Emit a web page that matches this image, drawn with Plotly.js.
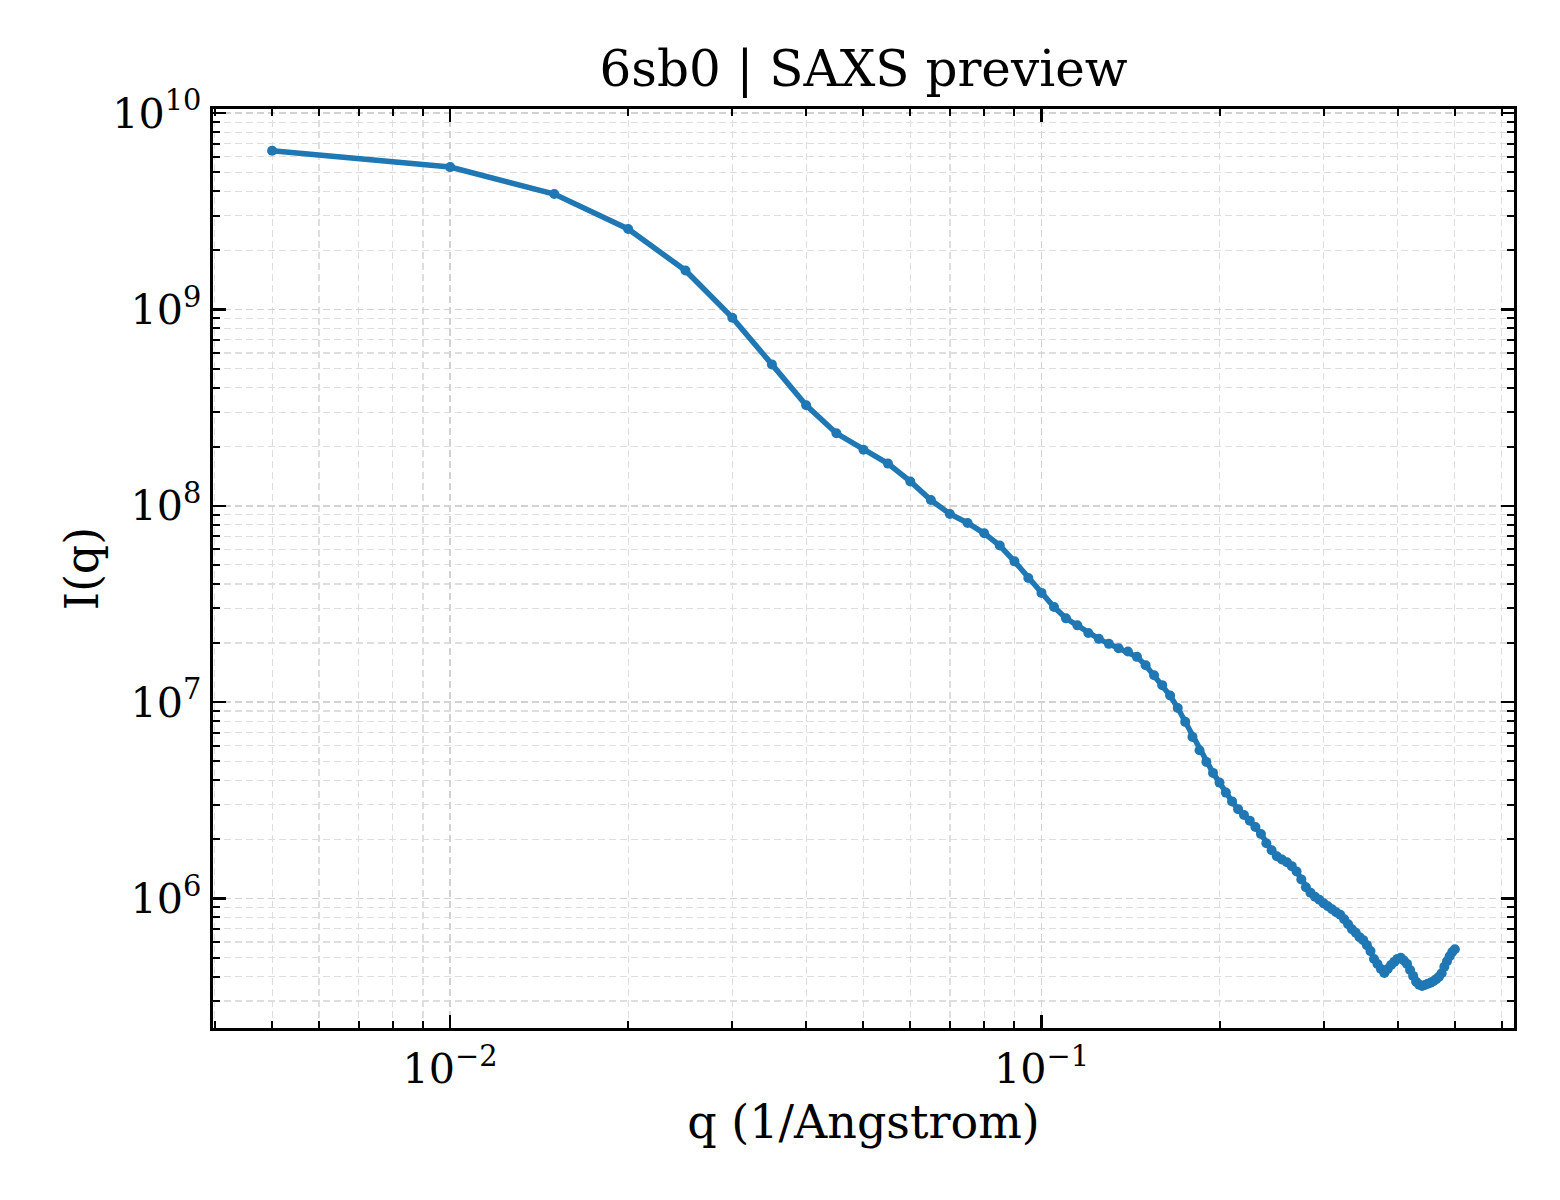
<!DOCTYPE html>
<html>
<head>
<meta charset="utf-8">
<script src="https://cdn.plot.ly/plotly-3.0.1.min.js"></script>
<style>
  html, body { margin: 0; padding: 0; background: #ffffff; }
  #plot { width: 1560px; height: 1200px; }
</style>
</head>
<body>
<div id="plot"></div>
<script>
// q values (1/Angstrom)
const qValues = [
    0.005, 0.010, 0.015, 0.020, 0.025, 0.030, 0.035, 0.040, 0.045, 0.050,
    0.055, 0.060, 0.065, 0.070, 0.075, 0.080, 0.085, 0.090, 0.095, 0.100,
    0.105, 0.110, 0.115, 0.120, 0.125, 0.130, 0.135, 0.140, 0.145, 0.150,
    0.155, 0.160, 0.165, 0.170, 0.175, 0.180, 0.185, 0.190, 0.195, 0.200,
    0.205, 0.210, 0.215, 0.220, 0.225, 0.230, 0.235, 0.240, 0.245, 0.250,
    0.255, 0.260, 0.265, 0.270, 0.275, 0.280, 0.285, 0.290, 0.295, 0.300,
    0.305, 0.310, 0.315, 0.320, 0.325, 0.330, 0.335, 0.340, 0.345, 0.350,
    0.355, 0.360, 0.365, 0.370, 0.375, 0.380, 0.385, 0.390, 0.395, 0.400,
    0.405, 0.410, 0.415, 0.420, 0.425, 0.430, 0.435, 0.440, 0.445, 0.450,
    0.455, 0.460, 0.465, 0.470, 0.475, 0.480, 0.485, 0.490, 0.495, 0.500
];

// I(q) intensities
const intensity = [
    6.43e9, 5.31e9, 3.87e9, 2.57e9, 1.58e9, 9.08e8, 5.25e8, 3.25e8, 2.34e8, 1.93e8,
    1.64e8, 1.33e8, 1.07e8, 9.08e7, 8.17e7, 7.24e7, 6.27e7, 5.21e7, 4.29e7, 3.60e7,
    3.05e7, 2.67e7, 2.46e7, 2.25e7, 2.10e7, 1.98e7, 1.88e7, 1.81e7, 1.70e7, 1.54e7,
    1.37e7, 1.22e7, 1.08e7, 9.33e6, 7.93e6, 6.65e6, 5.68e6, 4.96e6, 4.36e6, 3.89e6,
    3.46e6, 3.12e6, 2.85e6, 2.66e6, 2.49e6, 2.31e6, 2.13e6, 1.91e6, 1.76e6, 1.64e6,
    1.58e6, 1.53e6, 1.46e6, 1.37e6, 1.25e6, 1.14e6, 1.07e6, 1.02e6, 9.84e5, 9.44e5,
    9.12e5, 8.81e5, 8.50e5, 8.26e5, 7.84e5, 7.39e5, 6.97e5, 6.69e5, 6.35e5, 6.13e5,
    5.78e5, 5.39e5, 4.91e5, 4.63e5, 4.37e5, 4.17e5, 4.37e5, 4.58e5, 4.75e5, 4.92e5,
    4.98e5, 4.83e5, 4.64e5, 4.32e5, 4.03e5, 3.76e5, 3.64e5, 3.58e5, 3.62e5, 3.68e5,
    3.72e5, 3.79e5, 3.88e5, 3.99e5, 4.16e5, 4.49e5, 4.79e5, 5.08e5, 5.33e5, 5.51e5
];

const chartTitle = '6sb0 | SAXS preview';
const xLabel = 'q (1/Angstrom)';
const yLabel = 'I(q)';

const serif = 'DejaVu Serif, Liberation Serif, serif';
const gridDash = '7px,4px';

// Shared axis styling, matplotlib-like: ticks inward on all four sides
function axisStyle(range, titleText, standoff, labelGap, tickSize) {
    return {
        type: 'log',
        range: range,
        dtick: 1,
        exponentformat: 'power',
        ticks: 'inside',
        ticklen: 13,
        tickwidth: 2.5,
        tickcolor: '#000000',
        ticklabelstandoff: labelGap,
        mirror: 'allticks',
        showline: true,
        linecolor: '#000000',
        linewidth: 3,
        showgrid: true,
        gridcolor: '#d2d2d2',
        gridwidth: 1.5,
        griddash: gridDash,
        zeroline: false,
        // plotly scales power-format labels by 1.25
        tickfont: { family: serif, size: tickSize, color: '#000000' },
        minor: {
            dtick: 'D1',
            ticks: 'inside',
            ticklen: 7,
            tickwidth: 2,
            tickcolor: '#000000',
            showgrid: true,
            gridcolor: '#dedede',
            gridwidth: 1.2,
            griddash: gridDash
        },
        title: {
            text: titleText,
            font: { family: serif, size: 46, color: '#000000' },
            standoff: standoff
        },
        automargin: false
    };
}

const traces = [
    {
        x: qValues,
        y: intensity,
        type: 'scatter',
        mode: 'lines+markers',
        line: { color: '#1f77b4', width: 5.5 },
        marker: { color: '#1f77b4', size: 10 },
        showlegend: false
    }
];

const layout = {
    width: 1560,
    height: 1200,
    margin: { l: 213, r: 46, t: 109, b: 172 },
    paper_bgcolor: '#FFFFFF',
    plot_bgcolor: '#FFFFFF',
    showlegend: false,
    title: {
        text: chartTitle,
        font: { family: serif, size: 50, color: '#000000' },
        x: 0.5,
        xref: 'paper',
        xanchor: 'center',
        y: 1 - 68 / 1200,
        yref: 'container',
        yanchor: 'middle'
    },
    xaxis: axisStyle([-2.401, -0.201], xLabel, 14, 4, 33),
    yaxis: axisStyle([5.34, 10.021], yLabel, 0, 2, 33)
};

const config = {
    responsive: false,
    displayModeBar: false,
    staticPlot: true
};

Plotly.newPlot('plot', traces, layout, config);
</script>
</body>
</html>
